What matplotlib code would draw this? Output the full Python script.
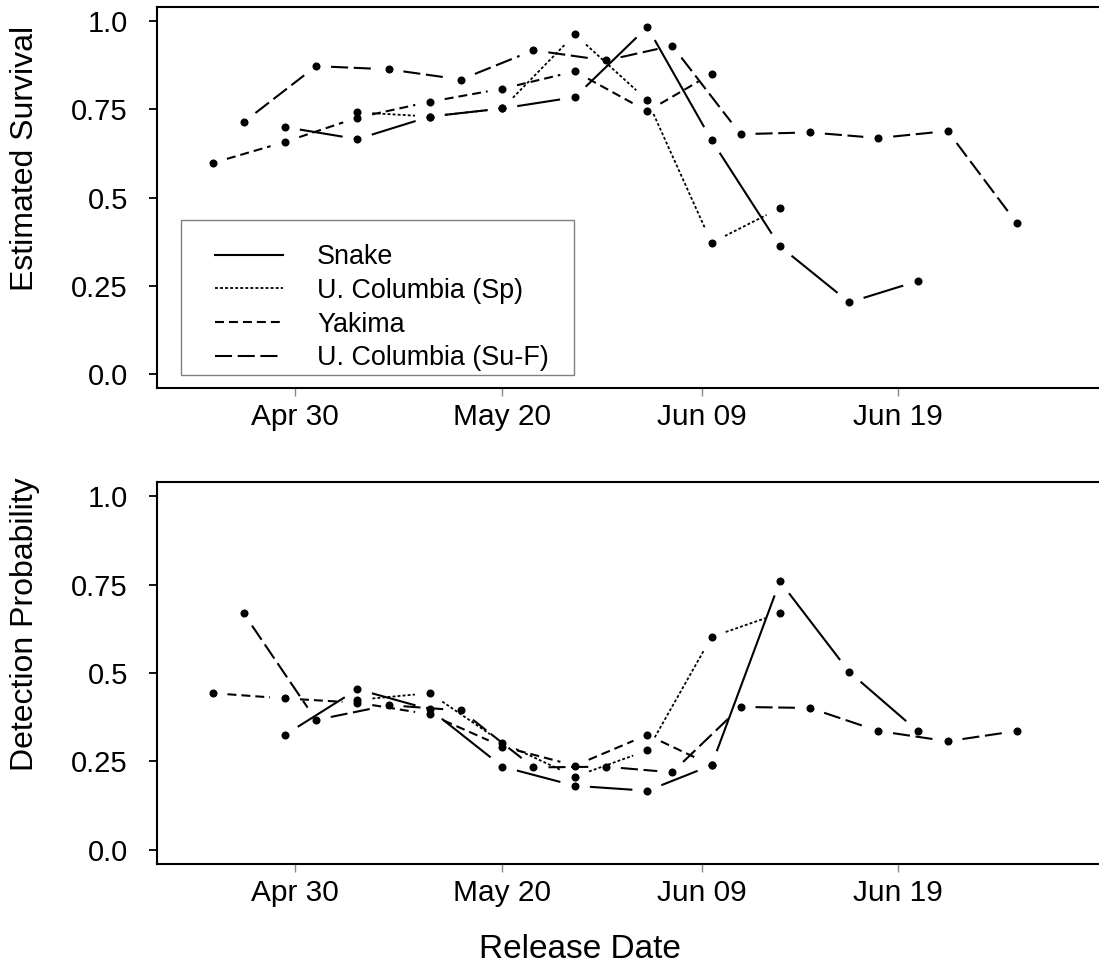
import numpy as np
import matplotlib
matplotlib.use("Agg")
import matplotlib.pyplot as plt
from matplotlib.lines import Line2D
from matplotlib.patches import Rectangle

plt.rcParams['font.family'] = ['Liberation Sans', 'DejaVu Sans']

# release positions, in days after Apr 30 (two interleaved release schedules)
days_a = [-8, -1, 6, 13, 20, 27, 34, 40.2, 46.8, 53.5, 60.1]
days_b = [-5, 2, 9, 16, 23, 30, 36.4, 43, 49.7, 56.3, 63, 69.7]

snake_x = days_a[1:]
snake_surv = [0.700, 0.666, 0.730, 0.753, 0.785, 0.984, 0.663, 0.362, 0.203, 0.263]
snake_det = [0.325, 0.454, 0.397, 0.235, 0.181, 0.167, 0.239, 0.759, 0.503, 0.336]

ucsp_x = days_a[2:9]
ucsp_surv = [0.742, 0.730, 0.753, 0.963, 0.776, 0.372, 0.470]
ucsp_det = [0.424, 0.443, 0.303, 0.207, 0.281, 0.602, 0.669]

yakima_x = days_a[:8]
yakima_surv = [0.598, 0.658, 0.727, 0.772, 0.809, 0.858, 0.745, 0.851]
yakima_det = [0.443, 0.428, 0.416, 0.383, 0.292, 0.238, 0.325, 0.239]

ucsuf_x = days_b
ucsuf_surv = [0.714, 0.873, 0.864, 0.835, 0.918, 0.889, 0.931, 0.680, 0.685, 0.669, 0.689, 0.427]
ucsuf_det = [0.669, 0.367, 0.409, 0.394, 0.233, 0.235, 0.219, 0.404, 0.401, 0.336, 0.307, 0.336]

group_names = ['Snake', 'U. Columbia (Sp)', 'Yakima', 'U. Columbia (Su-F)']
tick_days = [0, 20, 39.3, 58.2]
tick_names = ['Apr 30', 'May 20', 'Jun 09', 'Jun 19']
y_ticks = [0.0, 0.25, 0.5, 0.75, 1.0]
y_tick_names = ['0.0', '0.25', '0.5', '0.75', '1.0']

# line styles (dash lengths in linewidth units)
styles = {
    'Snake': dict(ls='-', lw=1.5),
    'U. Columbia (Sp)': dict(ls=(0, (1.6, 1.2)), lw=1.3),
    'Yakima': dict(ls=(0, (4.3, 2.4)), lw=1.5),
    'U. Columbia (Su-F)': dict(ls=(0, (8.2, 2.7)), lw=1.5),
}

fig = plt.figure(figsize=(10.99, 9.69), dpi=100)
ax1 = fig.add_axes([0.1426, 0.5996, 0.860, 0.3929])
ax2 = fig.add_axes([0.1426, 0.1084, 0.860, 0.3942])


def draw_b(ax, x, y, name, gap=15):
    # points joined by segments that stop short of each point
    st = styles[name]
    pts = ax.transData.transform(np.column_stack([x, y]))
    inv = ax.transData.inverted()
    for p, q in zip(pts[:-1], pts[1:]):
        d = q - p
        n = np.hypot(d[0], d[1])
        if n <= 2 * gap:
            continue
        u = d / n
        seg = inv.transform(np.array([p + u * gap, q - u * gap]))
        ax.plot(seg[:, 0], seg[:, 1], color='black', linestyle=st['ls'],
                linewidth=st['lw'], solid_capstyle='butt')
    ax.plot(x, y, 'o', color='black', markersize=5.8, markeredgewidth=0)


for ax, ylab, ypos in [(ax1, 'Estimated Survival', 0.604),
                       (ax2, 'Detection Probability', 0.628)]:
    ax.set_xlim(-13.39, 77.9)
    ax.set_ylim(-0.04, 1.04)
    for s in ax.spines.values():
        s.set_linewidth(1.5)
    ax.set_yticks(y_ticks)
    ax.set_yticklabels(y_tick_names)
    ax.set_xticks(tick_days)
    ax.set_xticklabels(tick_names)
    ax.tick_params(axis='y', direction='out', length=5.8, width=1.3,
                   labelsize=21, pad=15)
    ax.tick_params(axis='x', direction='out', length=5.8, width=1.0,
                   color='#888888', labelsize=21.5, pad=5)
    ax.set_ylabel(ylab, fontsize=23, va='center')
    ax.yaxis.set_label_coords(-0.139, ypos)

draw_b(ax1, snake_x, snake_surv, 'Snake')
draw_b(ax1, ucsp_x, ucsp_surv, 'U. Columbia (Sp)')
draw_b(ax1, yakima_x, yakima_surv, 'Yakima')
draw_b(ax1, ucsuf_x, ucsuf_surv, 'U. Columbia (Su-F)')

draw_b(ax2, snake_x, snake_det, 'Snake')
draw_b(ax2, ucsp_x, ucsp_det, 'U. Columbia (Sp)')
draw_b(ax2, yakima_x, yakima_det, 'Yakima')
draw_b(ax2, ucsuf_x, ucsuf_det, 'U. Columbia (Su-F)')

ax2.set_xlabel('Release Date', fontsize=24, va='center')
ax2.xaxis.set_label_coords(0.448, -0.225)

# legend: rows without frame, plus a grey box around them
handles = [Line2D([], [], color='black', linestyle=styles[n]['ls'],
                  linewidth=styles[n]['lw']) for n in group_names]
ax1.legend(handles, group_names, loc='upper left',
           bbox_to_anchor=(0.0617, 0.3783), frameon=False, borderpad=0,
           borderaxespad=0, fontsize=19.4, handlelength=2.52,
           handletextpad=1.27, labelspacing=0.29)
ax1.add_patch(Rectangle((0.026, 0.0341), 0.4157, 0.408, transform=ax1.transAxes,
                        fill=False, edgecolor='#808080', linewidth=1.0))

fig.savefig('out.png', dpi=100)
